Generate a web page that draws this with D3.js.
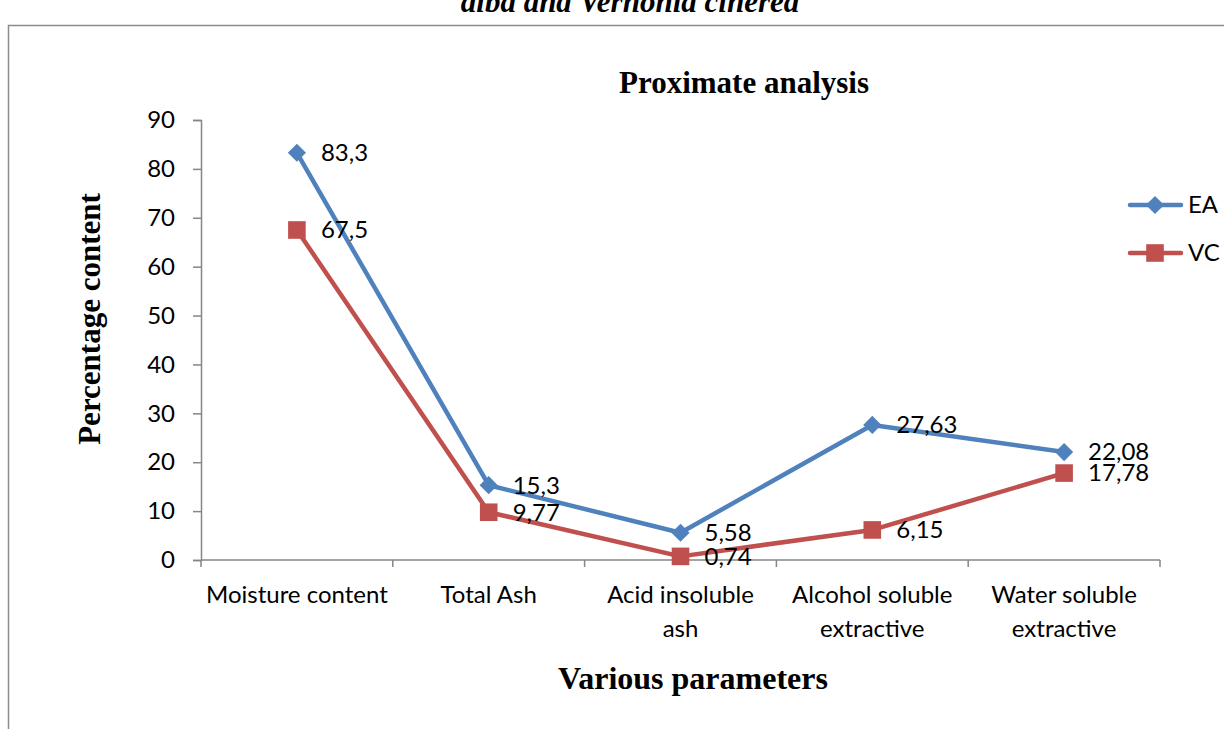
<!DOCTYPE html>
<html>
<head>
<meta charset="utf-8">
<script src="https://d3js.org/d3.v7.min.js"></script>
<style>
  body { margin: 0; background: #fff; }
</style>
</head>
<body>
<div id="chart"></div>
<script>
// data
const categories = [["Moisture content"], ["Total Ash"], ["Acid insoluble", "ash"], ["Alcohol soluble", "extractive"], ["Water soluble", "extractive"]];
const eaValues = [83.3, 15.3, 5.58, 27.63, 22.08];
const vcValues = [67.5, 9.77, 0.74, 6.15, 17.78];
const eaLabels = ["83,3", "15,3", "5,58", "27,63", "22,08"];
const vcLabels = ["67,5", "9,77", "0,74", "6,15", "17,78"];
const yTicks = [0, 10, 20, 30, 40, 50, 60, 70, 80, 90];

const width = 1224, height = 729;
const margin = { top: 120, right: 64, bottom: 169, left: 201 };

const svg = d3.select("#chart").append("svg")
    .attr("width", width)
    .attr("height", height);

// caption cut off at the top of the page
svg.append("text")
    .attr("x", 630).attr("y", 12)
    .attr("text-anchor", "middle")
    .attr("font-family", "Liberation Serif")
    .attr("font-style", "italic")
    .attr("font-weight", "bold")
    .attr("font-size", 31)
    .text("alba and Vernonia cinerea");

// chart frame
svg.append("rect")
    .attr("x", 8.5).attr("y", 25.5)
    .attr("width", 1230).attr("height", 720)
    .attr("fill", "#fff")
    .attr("stroke", "#8c8c8c")
    .attr("stroke-width", 1.5);

const x = d3.scaleBand()
    .domain(d3.range(categories.length))
    .range([margin.left, width - margin.right]);

const y = d3.scaleLinear()
    .domain([0, 90])
    .range([height - margin.bottom, margin.top]);

const axisColor = "#868686";
const tickFont = "Lato, 'Open Sans', sans-serif";
const tickSize = 24;

// y axis
const yAxis = svg.append("g")
    .attr("transform", `translate(${margin.left},0)`)
    .call(d3.axisLeft(y).tickValues(yTicks).tickSize(8).tickPadding(18));
yAxis.selectAll("line, path").attr("stroke", axisColor).attr("stroke-width", 1.5);
yAxis.selectAll("text")
    .attr("font-family", tickFont)
    .attr("font-size", tickSize)
    .attr("fill", "#000");

// x axis, ticks at category boundaries
const xAxis = svg.append("g")
    .attr("transform", `translate(0,${y(0)})`);
xAxis.append("line")
    .attr("x1", margin.left).attr("x2", width - margin.right)
    .attr("stroke", axisColor).attr("stroke-width", 1.5);
const bounds = d3.range(categories.length + 1).map(i => margin.left + i * x.step());
xAxis.selectAll(".tick")
    .data(bounds)
    .join("line")
    .attr("x1", d => d).attr("x2", d => d)
    .attr("y1", 0).attr("y2", 7)
    .attr("stroke", axisColor).attr("stroke-width", 1.5);
xAxis.selectAll(".lab")
    .data(categories)
    .join("text")
    .attr("text-anchor", "middle")
    .attr("font-family", tickFont)
    .attr("font-size", tickSize)
    .attr("fill", "#000")
    .each(function (d, i) {
        d3.select(this).selectAll("tspan")
            .data(d)
            .join("tspan")
            .attr("x", x(i) + x.bandwidth() / 2)
            .attr("y", (t, j) => 43 + j * 34)
            .text(t => t);
    });

// series: the diamond is a square turned by 45 degrees
const series = [
    { name: "EA", values: eaValues, labels: eaLabels, color: "#4F81BD", symbol: d3.symbolSquare, size: 165, rot: 45 },
    { name: "VC", values: vcValues, labels: vcLabels, color: "#C0504D", symbol: d3.symbolSquare, size: 310, rot: 0 }
];

const line = d3.line()
    .x((d, i) => x(i) + x.bandwidth() / 2)
    .y(d => y(d));

series.forEach(s => {
    svg.append("path")
        .datum(s.values)
        .attr("fill", "none")
        .attr("stroke", s.color)
        .attr("stroke-width", 4.5)
        .attr("stroke-linejoin", "round")
        .attr("stroke-linecap", "round")
        .attr("d", line);
});

series.forEach(s => {
    svg.append("g").selectAll("path")
        .data(s.values)
        .join("path")
        .attr("transform", (d, i) => `translate(${x(i) + x.bandwidth() / 2},${y(d)}) rotate(${s.rot})`)
        .attr("d", d3.symbol().type(s.symbol).size(s.size))
        .attr("fill", s.color);
});

// data labels
series.forEach(s => {
    svg.append("g").selectAll("text")
        .data(s.values)
        .join("text")
        .attr("x", (d, i) => x(i) + x.bandwidth() / 2 + 24)
        .attr("y", d => y(d))
        .attr("dy", "0.35em")
        .attr("font-family", tickFont)
        .attr("font-size", tickSize)
        .attr("fill", "#000")
        .text((d, i) => s.labels[i]);
});

// titles
svg.append("text")
    .attr("x", 744).attr("y", 93)
    .attr("text-anchor", "middle")
    .attr("font-family", "Liberation Serif")
    .attr("font-weight", "bold")
    .attr("font-size", 31)
    .text("Proximate analysis");

svg.append("text")
    .attr("transform", "translate(100,319) rotate(-90)")
    .attr("text-anchor", "middle")
    .attr("font-family", "Liberation Serif")
    .attr("font-weight", "bold")
    .attr("font-size", 31)
    .text("Percentage content");

svg.append("text")
    .attr("x", 693).attr("y", 689)
    .attr("text-anchor", "middle")
    .attr("font-family", "Liberation Serif")
    .attr("font-weight", "bold")
    .attr("font-size", 32)
    .text("Various parameters");

// legend
const legend = svg.append("g");
series.forEach((s, i) => {
    const ly = 205 + i * 48;
    legend.append("line")
        .attr("x1", 1130).attr("x2", 1181)
        .attr("y1", ly).attr("y2", ly)
        .attr("stroke", s.color)
        .attr("stroke-width", 4.5)
        .attr("stroke-linecap", "round");
    legend.append("path")
        .attr("transform", `translate(1155,${ly}) rotate(${s.rot})`)
        .attr("d", d3.symbol().type(s.symbol).size(s.size))
        .attr("fill", s.color);
    legend.append("text")
        .attr("x", 1188).attr("y", ly)
        .attr("dy", "0.35em")
        .attr("font-family", tickFont)
        .attr("font-size", tickSize)
        .text(s.name);
});
</script>
</body>
</html>
